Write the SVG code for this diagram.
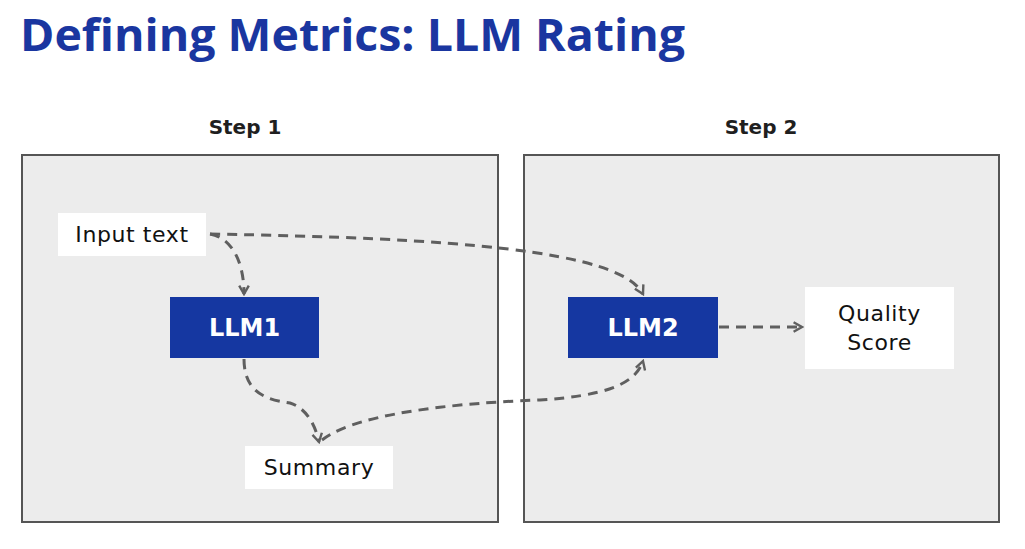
<svg xmlns="http://www.w3.org/2000/svg" width="1025" height="549" viewBox="0 0 1025 549">
<style>
text{font-family:"DejaVu Sans","Liberation Sans",sans-serif}
.title{font-family:"Open Sans","Liberation Sans",sans-serif;font-size:44px;font-weight:700;fill:#1a36a0}
.step{font-size:20px;font-weight:700;fill:#1f1f1f}
.panel{fill:#ececec;stroke:#555;stroke-width:2}
.wbox{fill:#fff}
.bbox{fill:#1537a1}
.lbl{font-size:22px;fill:#111;text-anchor:middle;letter-spacing:0.6px}
.blbl{font-size:24px;font-weight:700;fill:#fff;text-anchor:middle}
.conn{fill:none;stroke:#5f5f5f;stroke-width:3;stroke-dasharray:10 7;marker-end:url(#arr)}
</style>
<defs>
<marker id="arr" viewBox="0 0 10 10" refX="8" refY="5" markerWidth="4" markerHeight="4" orient="auto" markerUnits="strokeWidth">
<path d="M1 1 L8 5 L1 9" fill="none" stroke="#5f5f5f" stroke-width="2"/>
</marker>
</defs>
<rect width="1025" height="549" fill="#fff"/>
<text class="title" x="20" y="51" textLength="665" lengthAdjust="spacingAndGlyphs">Defining Metrics: LLM Rating</text>
<g id="panel1">
<rect class="panel" x="22" y="155" width="476" height="367"/>
<text class="step" x="245" y="134" text-anchor="middle">Step 1</text>
</g>
<g id="panel2">
<rect class="panel" x="524" y="155" width="475" height="367"/>
<text class="step" x="761" y="134" text-anchor="middle">Step 2</text>
</g>
<g id="connectors">
<path class="conn" d="M210 234 C232 238 244 262 244 294"/>
<path class="conn" d="M210 234 C450 238 620 250 643 294"/>
<path class="conn" d="M244 359 C244 395 270 400 290 403 C306 408 315 424 319 442"/>
<path class="conn" d="M322 440 C360 410 480 402 540 400 C600 396 635 386 643 361"/>
<path class="conn" d="M719 327 L802 327"/>
</g>
<g id="input-text">
<rect class="wbox" x="58" y="213" width="148" height="43"/>
<text class="lbl" x="132" y="242">Input text</text>
</g>
<g id="llm1">
<rect class="bbox" x="170" y="297" width="149" height="61"/>
<text class="blbl" x="244.5" y="336">LLM1</text>
</g>
<g id="summary">
<rect class="wbox" x="245" y="446" width="148" height="43"/>
<text class="lbl" x="319" y="475">Summary</text>
</g>
<g id="llm2">
<rect class="bbox" x="568" y="297" width="150" height="61"/>
<text class="blbl" x="643" y="336">LLM2</text>
</g>
<g id="quality-score">
<rect class="wbox" x="805" y="287" width="149" height="82"/>
<text class="lbl" x="879.5" y="321">Quality</text>
<text class="lbl" x="879.5" y="350">Score</text>
</g>
</svg>
